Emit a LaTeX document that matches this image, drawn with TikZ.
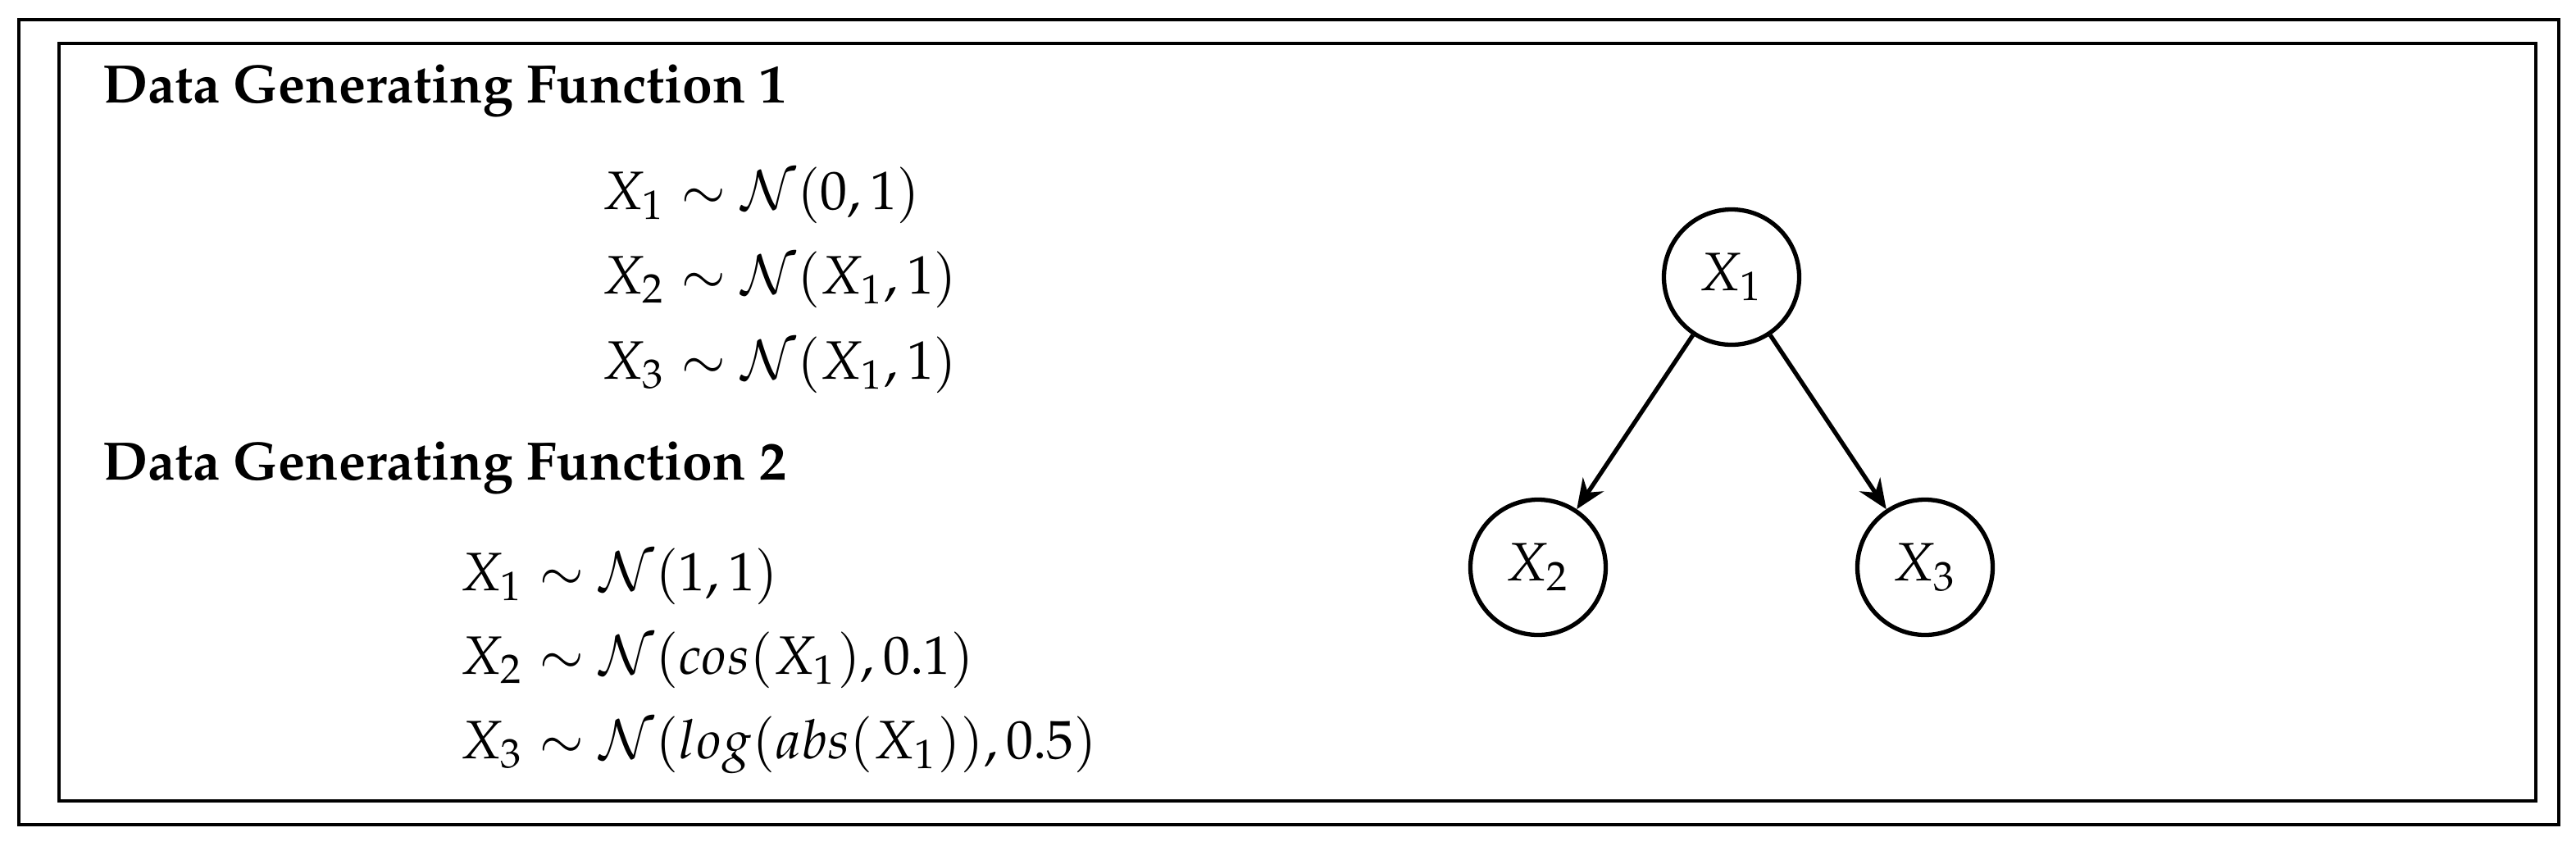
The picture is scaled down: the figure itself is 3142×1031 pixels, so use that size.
\documentclass[tikz,border=0pt]{standalone}
\usepackage[T1]{fontenc}
\usepackage{amsmath}
\usepackage{mathpazo}
\usetikzlibrary{arrows.meta,positioning}

\begin{document}
\begin{tikzpicture}[x=0.1515pt, y=-0.1515pt,
    heading/.style={font=\bfseries, inner sep=0pt, anchor=base west},
    eqline/.style={inner sep=0pt, anchor=base west},
    var/.style={circle, draw, thick, minimum size=25pt, inner sep=0pt},
    edge/.style={-{Stealth[length=5.5pt, width=4.6pt, inset=1.8pt]}, thick}]
    \useasboundingbox (0,0) rectangle (3142,1031);

    % frames
    \draw [line width=0.7pt] (23,24) rectangle (3121,1006);
    \draw [line width=0.7pt] (72,53) rectangle (3093,977);

    % first data generating function
    \node (dgfone) [heading] at (124,125) {Data Generating Function 1};
    \node (eqonea) [eqline] at (733,255) {$X_1 \sim \mathcal{N}(0, 1)$};
    \node (eqoneb) [eqline] at (733,358) {$X_2 \sim \mathcal{N}(X_1, 1)$};
    \node (eqonec) [eqline] at (733,462) {$X_3 \sim \mathcal{N}(X_1, 1)$};

    % second data generating function
    \node (dgftwo) [heading] at (124,585) {Data Generating Function 2};
    \node (eqtwoa) [eqline] at (560,720) {$X_1 \sim \mathcal{N}(1, 1)$};
    \node (eqtwob) [eqline] at (560,822) {$X_2 \sim \mathcal{N}(cos(X_1), 0.1)$};
    \node (eqtwoc) [eqline] at (560,925) {$X_3 \sim \mathcal{N}(log(abs(X_1)), 0.5)$};

    % graph
    \node (xone) [var] at (2112,338) {$X_1$};
    \node (xtwo) [var] at (1876,692) {$X_2$};
    \node (xthree) [var] at (2348,692) {$X_3$};

    \draw [edge] (xone) -- (xtwo);
    \draw [edge] (xone) -- (xthree);
\end{tikzpicture}
\end{document}
